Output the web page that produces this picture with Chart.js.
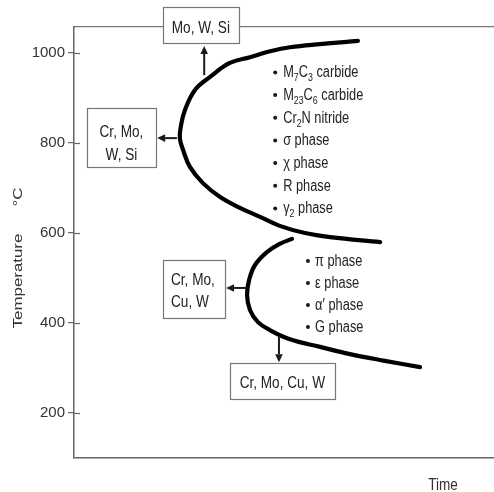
<!DOCTYPE html>
<html>
<head>
<meta charset="utf-8">
<script src="https://cdn.jsdelivr.net/npm/chart.js@4.4.1/dist/chart.umd.min.js"></script>
<style>
  html, body { margin: 0; padding: 0; background: #fff; }
  #wrap { width: 494px; height: 492px; }
</style>
</head>
<body>
<div id="wrap"><canvas id="c" width="494" height="492"></canvas></div>
<script>
const FONT = '"Liberation Sans", Arial, sans-serif';
const NARROW = 0.8;    // horizontal squeeze for the tall, narrow lettering
const TALL = 1.25;     // stretch along the rotated axis title

// Upper precipitation C-curve (time units, temperature in °C)
const upperTime = [67.6, 58.6, 51.4, 46.7, 41.9, 37.1, 32.4, 28.8, 26.4, 25.5, 25.2, 26.0, 27.6, 30.7, 34.8, 39.5, 44.3, 49.0, 55.0, 61.0, 72.9];
const upperTemp = [1027, 1020, 1013, 1004, 991, 978, 947, 918, 873, 840, 811, 784, 747, 711, 680, 656, 636, 616, 600, 591, 580];

// Lower precipitation C-curve
const lowerTime = [51.9, 49.0, 46.0, 43.1, 41.7, 41.2, 41.9, 43.8, 46.7, 51.4, 58.6, 65.7, 74.0, 82.4];
const lowerTemp = [587, 576, 558, 529, 496, 462, 429, 402, 384, 364, 347, 331, 316, 302];

// Temperature axis
const tempTicks = [200, 400, 600, 800, 1000];

// Phases forming in each temperature range ("_" marks a subscript)
const upperPhases = ['M_7C_3 carbide', 'M_{23}C_6 carbide', 'Cr_2N nitride', 'σ phase', 'χ phase', 'R phase', 'γ_2 phase'];
const lowerPhases = ['π phase', 'ε phase', 'α′ phase', 'G phase'];

// Alloying elements that shift each curve
const topLabel = ['Mo, W, Si'];
const noseUpperLabel = ['Cr, Mo,', 'W, Si'];
const noseLowerLabel = ['Cr, Mo,', 'Cu, W'];
const bottomLabel = ['Cr, Mo, Cu, W'];

// Label boxes placed in data coordinates (time, °C)
const boxes = [
  { lines: topLabel,       x1: 21.2, x2: 39.3, y1: 1102, y2: 1022, align: 'center', tx: 30.2, base: [1044] },
  { lines: noseUpperLabel, x1: 3.1,  x2: 19.5, y1: 878,  y2: 747,  align: 'center', tx: 11.3, base: [813, 762] },
  { lines: noseLowerLabel, x1: 21.2, x2: 36.0, y1: 540,  y2: 411,  align: 'left',   tx: 23.1, base: [484, 436] },
  { lines: bottomLabel,    x1: 37.1, x2: 62.1, y1: 311,  y2: 231,  align: 'center', tx: 49.6, base: [256] }
];

// Arrows from the curves towards the labels
const arrows = [
  { from: [31.0, 951], to: [31.0, 1016] },
  { from: [24.5, 811], to: [19.8, 811] },
  { from: [41.2, 478], to: [36.2, 478] },
  { from: [48.8, 371], to: [48.8, 313] }
];

const phaseLists = [
  { items: upperPhases, bx: 47.9, tx: 49.8, first: 946, step: 50.4 },
  { items: lowerPhases, bx: 55.7, tx: 57.4, first: 527, step: 48.9 }
];

function toPoints(xs, ys) { return xs.map((x, i) => ({ x: x, y: ys[i] })); }

// Draws narrow text with "_x" or "_{xy}" subscripts
function drawRich(ctx, str, x, y, size, align) {
  const segs = [];
  let i = 0, cur = '';
  while (i < str.length) {
    if (str[i] === '_') {
      if (cur) { segs.push({ t: cur, sub: false }); cur = ''; }
      if (str[i + 1] === '{') {
        const end = str.indexOf('}', i);
        segs.push({ t: str.slice(i + 2, end), sub: true });
        i = end + 1;
      } else {
        segs.push({ t: str[i + 1], sub: true });
        i += 2;
      }
    } else { cur += str[i]; i++; }
  }
  if (cur) segs.push({ t: cur, sub: false });
  const subSize = Math.round(size * 0.7);
  let total = 0;
  segs.forEach(s => { ctx.font = (s.sub ? subSize : size) + 'px ' + FONT; s.w = ctx.measureText(s.t).width; total += s.w; });
  ctx.save();
  ctx.translate(x, y);
  ctx.scale(NARROW, 1);
  let px = align === 'center' ? -total / 2 : 0;
  ctx.textAlign = 'left';
  ctx.textBaseline = 'alphabetic';
  segs.forEach(s => {
    ctx.font = (s.sub ? subSize : size) + 'px ' + FONT;
    ctx.fillText(s.t, px, s.sub ? size * 0.25 : 0);
    px += s.w;
  });
  ctx.restore();
}

// Axis title rotated to read bottom-to-top, stretched along its length
function drawRotated(ctx, text, x, y, size) {
  ctx.save();
  ctx.translate(x, y);
  ctx.rotate(-Math.PI / 2);
  ctx.scale(TALL, 1);
  ctx.font = size + 'px ' + FONT;
  ctx.textAlign = 'center';
  ctx.textBaseline = 'alphabetic';
  ctx.fillText(text, 0, 0);
  ctx.restore();
}

const annotations = {
  id: 'annotations',
  afterDraw(chart) {
    const { ctx, scales: { x, y }, chartArea } = chart;
    const X = v => x.getPixelForValue(v);
    const Y = v => y.getPixelForValue(v);
    ctx.save();

    // inner half of the temperature tick marks
    ctx.strokeStyle = '#666';
    ctx.lineWidth = 1.2;
    tempTicks.forEach(v => {
      const py = Math.round(Y(v)) + 0.5;
      ctx.beginPath();
      ctx.moveTo(chartArea.left, py);
      ctx.lineTo(chartArea.left + 6, py);
      ctx.stroke();
    });

    // label boxes
    boxes.forEach(b => {
      const l = Math.round(X(b.x1)) + 0.5, r = Math.round(X(b.x2)) + 0.5;
      const t = Math.round(Y(b.y1)) + 0.5, btm = Math.round(Y(b.y2)) + 0.5;
      ctx.fillStyle = '#fff';
      ctx.fillRect(l, t, r - l, btm - t);
      ctx.strokeStyle = '#777';
      ctx.lineWidth = 1.2;
      ctx.strokeRect(l, t, r - l, btm - t);
      ctx.fillStyle = '#222';
      b.lines.forEach((line, i) => drawRich(ctx, line, X(b.tx), Y(b.base[i]), 17, b.align));
    });

    // arrows
    ctx.strokeStyle = '#1a1a1a';
    ctx.fillStyle = '#1a1a1a';
    arrows.forEach(a => {
      const x0 = X(a.from[0]), y0 = Y(a.from[1]);
      const x1 = X(a.to[0]), y1 = Y(a.to[1]);
      const ang = Math.atan2(y1 - y0, x1 - x0);
      const head = 8, half = 3.8;
      const bx = x1 - head * Math.cos(ang), by = y1 - head * Math.sin(ang);
      ctx.lineWidth = 2;
      ctx.beginPath();
      ctx.moveTo(x0, y0);
      ctx.lineTo(bx, by);
      ctx.stroke();
      ctx.beginPath();
      ctx.moveTo(x1, y1);
      ctx.lineTo(bx + half * Math.sin(ang), by - half * Math.cos(ang));
      ctx.lineTo(bx - half * Math.sin(ang), by + half * Math.cos(ang));
      ctx.closePath();
      ctx.fill();
    });

    // bulleted phase lists
    phaseLists.forEach(list => {
      list.items.forEach((item, i) => {
        const base = Y(list.first - i * list.step);
        ctx.fillStyle = '#1a1a1a';
        ctx.beginPath();
        ctx.arc(X(list.bx), base - 5, 2, 0, Math.PI * 2);
        ctx.fill();
        ctx.fillStyle = '#222';
        drawRich(ctx, item, X(list.tx), base, 16, 'left');
      });
    });

    // axis titles
    ctx.fillStyle = '#333';
    drawRotated(ctx, 'Temperature', 22, 281, 13.5);
    drawRotated(ctx, '°C', 22, 197, 13.5);
    drawRich(ctx, 'Time', chartArea.right - 51, 490, 17, 'center');

    ctx.restore();
  }
};

const curveStyle = {
  showLine: true,
  borderColor: '#000',
  borderWidth: 4.2,
  pointRadius: 0,
  tension: 0.4,
  borderCapStyle: 'round',
  borderJoinStyle: 'round',
  fill: false
};

new Chart(document.getElementById('c'), {
  type: 'scatter',
  data: {
    datasets: [
      Object.assign({ label: 'upper', data: toPoints(upperTime, upperTemp) }, curveStyle),
      Object.assign({ label: 'lower', data: toPoints(lowerTime, lowerTemp) }, curveStyle)
    ]
  },
  options: {
    responsive: false,
    devicePixelRatio: 1,
    animation: false,
    layout: { padding: { top: 27, right: 0, bottom: 34, left: 0 } },
    plugins: { legend: { display: false }, tooltip: { enabled: false } },
    scales: {
      x: {
        type: 'linear', min: 0, max: 100,
        ticks: { display: false },
        grid: { display: false },
        border: { display: true, color: '#666', width: 1.5 },
        afterFit(s) { s.height = 0; }
      },
      xTop: {
        type: 'linear', position: 'top', min: 0, max: 100,
        ticks: { display: false },
        grid: { display: false },
        border: { display: true, color: '#777', width: 1.2 },
        afterFit(s) { s.height = 0; }
      },
      y: {
        type: 'linear', min: 100, max: 1058,
        afterBuildTicks(s) { s.ticks = tempTicks.map(v => ({ value: v })); },
        ticks: {
          font: { family: FONT, size: 15 },
          color: '#333',
          padding: 3,
          callback: v => String(v)
        },
        grid: { display: true, drawOnChartArea: false, drawTicks: true, tickLength: 6, color: '#666', lineWidth: 1.2 },
        border: { display: true, color: '#666', width: 1.5 },
        afterFit(s) { s.width = 74; }
      }
    }
  },
  plugins: [annotations]
});
</script>
</body>
</html>
